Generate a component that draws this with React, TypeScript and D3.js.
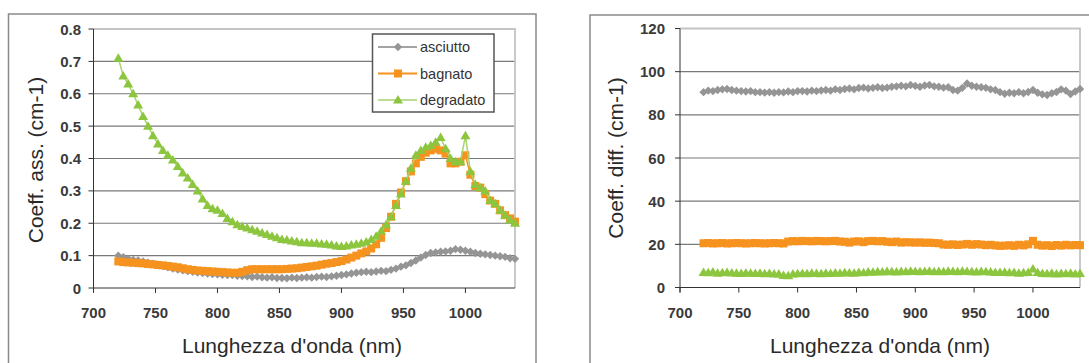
import React, { useEffect, useRef } from "react";
import * as d3 from "d3";

// wavelength grid (nm)
const wavelengths = [
  720, 724, 728, 732, 736, 740, 744, 748, 752, 756,
  760, 764, 768, 772, 776, 780, 784, 788, 792, 796,
  800, 804, 808, 812, 816, 820, 824, 828, 832, 836,
  840, 844, 848, 852, 856, 860, 864, 868, 872, 876,
  880, 884, 888, 892, 896, 900, 904, 908, 912, 916,
  920, 924, 928, 932, 936, 940, 944, 948, 952, 956,
  960, 964, 968, 972, 976, 980, 984, 988, 992, 996,
  1000, 1004, 1008, 1012, 1016, 1020, 1024, 1028, 1032, 1036,
  1040,
];

// absorption coefficient (cm-1)
const assAsciutto = [
  0.1, 0.095, 0.09, 0.087, 0.085, 0.082, 0.078, 0.075, 0.072, 0.068,
  0.064, 0.06, 0.057, 0.055, 0.052, 0.05, 0.048, 0.046, 0.045, 0.043,
  0.042, 0.041, 0.04, 0.04, 0.038, 0.037, 0.036, 0.034, 0.035, 0.033,
  0.032, 0.033, 0.031, 0.031, 0.03, 0.032, 0.031, 0.032, 0.033, 0.032,
  0.034, 0.035, 0.034, 0.036, 0.038, 0.04, 0.042, 0.045, 0.047, 0.049,
  0.05, 0.049, 0.051, 0.053, 0.052, 0.056, 0.06, 0.066, 0.07, 0.077,
  0.085, 0.094, 0.102, 0.108, 0.11, 0.112, 0.113, 0.115, 0.12, 0.118,
  0.115, 0.112, 0.108, 0.106, 0.104, 0.102, 0.1, 0.098, 0.096, 0.092,
  0.09,
];
const assBagnato = [
  0.082, 0.08, 0.079, 0.078, 0.077, 0.076, 0.074, 0.073, 0.071, 0.07,
  0.068, 0.066, 0.064, 0.061, 0.058, 0.056, 0.054, 0.053, 0.052, 0.051,
  0.05, 0.049, 0.048, 0.047, 0.047, 0.05, 0.055, 0.058, 0.058, 0.058,
  0.058, 0.058, 0.058, 0.058, 0.059, 0.06, 0.061, 0.063, 0.065, 0.067,
  0.069, 0.072, 0.075, 0.077, 0.08, 0.083, 0.088, 0.094, 0.1, 0.107,
  0.113, 0.122, 0.135, 0.155, 0.185, 0.22, 0.26, 0.295, 0.33, 0.36,
  0.385, 0.405, 0.418, 0.425, 0.43, 0.425, 0.415, 0.385, 0.385, 0.39,
  0.41, 0.35, 0.315, 0.31, 0.29, 0.27, 0.26, 0.24, 0.225, 0.215,
  0.205,
];
const assDegradato = [
  0.71, 0.655, 0.63, 0.6, 0.565, 0.53, 0.5, 0.47, 0.445, 0.425,
  0.41, 0.395, 0.375, 0.355, 0.34, 0.32, 0.3, 0.275, 0.255, 0.245,
  0.24, 0.23, 0.215, 0.205, 0.195, 0.19, 0.185, 0.18, 0.175, 0.17,
  0.165, 0.16, 0.155, 0.15, 0.148, 0.145, 0.143, 0.14, 0.14, 0.138,
  0.138, 0.136, 0.135, 0.133, 0.13, 0.128, 0.13, 0.133, 0.135, 0.138,
  0.142, 0.15, 0.16, 0.175, 0.195, 0.22, 0.255, 0.29, 0.33, 0.37,
  0.41, 0.425, 0.435, 0.44, 0.45, 0.465, 0.43, 0.4, 0.39, 0.39,
  0.47, 0.36, 0.32, 0.31, 0.3, 0.27, 0.26, 0.24, 0.225, 0.21,
  0.2,
];

// diffusion coefficient (cm-1)
const diffAsciutto = [
  90.5, 91.2, 91, 91.5, 91.8, 92, 91.5, 91.2, 91, 90.8,
  91, 90.5, 90.5, 90.3, 90.5, 90.2, 90.5, 90.4, 90.8, 90.5,
  91, 91, 90.8, 91.2, 91, 91.3, 91.5, 91.2, 91.8, 91.5,
  92, 92.2, 91.8, 92.4, 92.6, 92.2, 92.5, 92.8, 92.4, 92.6,
  93, 93.2, 93.5, 93.2, 93.8, 93.4, 93, 93.6, 93.8, 93.2,
  93, 92.6, 92.8, 91.5, 91.2, 92.5, 94.5, 93.5, 93, 92.8,
  92.5, 91.8, 91.5, 90.5, 89.8, 90.2, 90, 90.5, 90, 90.6,
  91.5, 90.2, 89.5, 89.2, 90, 90.6, 91.8, 91.2, 89.6, 90.8,
  92,
];
const diffBagnato = [
  20.5, 20.6, 20.4, 20.5, 20.6, 20.4, 20.5, 20.6, 20.5, 20.4,
  20.5, 20.6, 20.5, 20.4, 20.5, 20.6, 20.5, 20.4, 21.3, 21.5,
  21.4, 21.6, 21.5, 21.4, 21.6, 21.5, 21.4, 21.5, 21.6, 21.3,
  21.2, 20.8, 21.3, 21.4, 21.0, 21.5, 21.6, 21.4, 21.5, 21.2,
  21.0, 21.3, 20.8, 21.0, 20.9, 20.8, 20.9, 20.7, 20.8, 20.6,
  20.5, 19.9, 19.8, 20.0, 19.7, 19.9, 20.2, 19.8, 20.1, 19.9,
  19.6, 19.8, 19.5, 19.3, 19.4, 19.6, 19.3, 19.8, 19.5, 20.0,
  21.6, 19.8, 19.4, 19.6, 19.2, 19.7, 19.4, 19.8, 19.5, 19.7,
  19.6,
];
const diffDegradato = [
  7.0, 6.8, 7.2, 6.6, 6.8, 7.0, 6.7, 6.6, 6.5, 6.7,
  6.6, 6.5, 6.6, 6.4, 6.5, 6.3, 6.2, 5.6, 5.5, 6.3,
  6.4, 6.5, 6.4, 6.6, 6.5, 6.4, 6.6, 6.5, 6.7, 6.6,
  6.8, 6.7, 6.6, 6.9, 6.8, 7.2, 7.1, 7.3, 7.2, 7.4,
  7.3, 7.2, 7.4, 7.3, 7.5, 7.4, 7.3, 7.4, 7.5, 7.3,
  7.4, 7.3, 7.5, 7.4, 7.3, 7.5, 7.4, 7.3, 7.2, 7.4,
  7.3, 7.2, 7.0, 6.9, 7.1, 6.8, 6.9, 6.6, 6.8, 7.0,
  8.6, 7.0, 6.5, 6.4, 6.6, 6.3, 6.5, 6.4, 6.6, 6.3,
  6.5,
];

const seriesNames = ["asciutto", "bagnato", "degradato"];
const xTicks = [700, 750, 800, 850, 900, 950, 1000];
const assTicks = [0, 0.1, 0.2, 0.3, 0.4, 0.5, 0.6, 0.7, 0.8];
const diffTicks = [0, 20, 40, 60, 80, 100, 120];

const FONT = "'Liberation Sans', Arial, sans-serif";

// marker shapes + colours for each series
const styles = [
  { line: "#a3a3a3", fill: "#959595", shape: "M0,-4.2L4.2,0L0,4.2L-4.2,0Z" },
  { line: "#f6921e", fill: "#f6921e", shape: "M-4,-4H4V4H-4Z" },
  { line: "#a8d46c", fill: "#8cc63e", shape: "M0,-5L5,3.5L-5,3.5Z" },
];

function drawPanel(svg, p) {
  const g = svg.append("g");

  // outer chart border
  g.append("rect")
    .attr("x", p.box.x)
    .attr("y", p.box.y)
    .attr("width", p.box.w)
    .attr("height", 400)
    .attr("fill", "none")
    .attr("stroke", "#8a8a8a")
    .attr("stroke-width", 1.5);

  const x = d3.scaleLinear().domain([700, 1040]).range([p.left, p.right]);
  const y = d3.scaleLinear().domain([0, p.yMax]).range([p.bottom, p.top]);

  // gridlines
  g.selectAll(".grid")
    .data(p.yTicks.filter((d) => d > 0 && d < p.yMax))
    .join("line")
    .attr("x1", p.left)
    .attr("x2", p.right)
    .attr("y1", (d) => y(d))
    .attr("y2", (d) => y(d))
    .attr("stroke", "#7a7a7a")
    .attr("stroke-width", 1.2);

  // plot frame (top / right)
  g.append("path")
    .attr("d", `M${p.left},${p.top}H${p.right}V${p.bottom}`)
    .attr("fill", "none")
    .attr("stroke", "#c4c4c4")
    .attr("stroke-width", 1.8);

  // axes
  const xAxis = g.append("g").attr("transform", `translate(0,${p.bottom})`);
  xAxis.append("line").attr("x1", p.left).attr("x2", p.right).attr("stroke", "#333");
  xAxis
    .selectAll(".xt")
    .data(xTicks)
    .join("line")
    .attr("x1", (d) => x(d))
    .attr("x2", (d) => x(d))
    .attr("y1", 0)
    .attr("y2", 5)
    .attr("stroke", "#333");
  xAxis
    .selectAll(".xl")
    .data(xTicks)
    .join("text")
    .attr("x", (d) => x(d))
    .attr("y", 30)
    .attr("text-anchor", "middle")
    .style("font-family", FONT)
    .style("font-size", "15px")
    .style("font-weight", "bold")
    .style("fill", "#3a3a3a")
    .text((d) => d);

  const yAxis = g.append("g").attr("transform", `translate(${p.left},0)`);
  yAxis.append("line").attr("y1", p.top).attr("y2", p.bottom + 5).attr("stroke", "#333");
  yAxis
    .selectAll(".yt")
    .data(p.yTicks)
    .join("line")
    .attr("x1", -5)
    .attr("x2", 0)
    .attr("y1", (d) => y(d))
    .attr("y2", (d) => y(d))
    .attr("stroke", "#333");
  yAxis
    .selectAll(".yl")
    .data(p.yTicks)
    .join("text")
    .attr("x", p.labelX - p.left)
    .attr("y", (d) => y(d) + 5.5)
    .attr("text-anchor", "end")
    .style("font-family", FONT)
    .style("font-size", "15px")
    .style("font-weight", "bold")
    .style("fill", "#3a3a3a")
    .text((d) => p.fmt(d));

  // axis titles
  g.append("text")
    .attr("x", p.xTitleX)
    .attr("y", 353)
    .attr("text-anchor", "middle")
    .style("font-family", FONT)
    .style("font-size", "21px")
    .style("fill", "#2a2a2a")
    .text("Lunghezza d'onda (nm)");

  g.append("text")
    .attr("transform", `translate(${p.yTitleX},${p.yTitleY}) rotate(-90)`)
    .attr("text-anchor", "middle")
    .style("font-family", FONT)
    .style("font-size", "21px")
    .style("fill", "#2a2a2a")
    .text(p.yTitle);

  // series
  const line = d3
    .line()
    .x((d) => x(d[0]))
    .y((d) => y(d[1]));

  p.series.forEach((values, i) => {
    const pts = wavelengths.map((w, j) => [w, values[j]]);
    const s = styles[i];
    g.append("path")
      .datum(pts)
      .attr("d", line)
      .attr("fill", "none")
      .attr("stroke", s.line)
      .attr("stroke-width", 1.5);
    g.selectAll(`.m${i}`)
      .data(pts)
      .join("path")
      .attr("transform", (d) => `translate(${x(d[0])},${y(d[1])})`)
      .attr("d", s.shape)
      .attr("fill", s.fill);
  });

  // legend
  if (p.legend) {
    const lg = g.append("g");
    lg.append("rect")
      .attr("x", 372.5)
      .attr("y", 34)
      .attr("width", 121.5)
      .attr("height", 78)
      .attr("fill", "white")
      .attr("stroke", "#555")
      .attr("stroke-width", 1.5);
    const legendLines = ["#a3a3a3", "#f6921e", "#bcdd95"];
    seriesNames.forEach((name, i) => {
      const ly = 47 + i * 26.5;
      lg.append("line")
        .attr("x1", 378)
        .attr("x2", 417)
        .attr("y1", ly)
        .attr("y2", ly)
        .attr("stroke", legendLines[i])
        .attr("stroke-width", 1.8);
      lg.append("path")
        .attr("transform", `translate(398,${ly})`)
        .attr("d", styles[i].shape)
        .attr("fill", styles[i].fill);
      lg.append("text")
        .attr("x", 420)
        .attr("y", ly + 5)
        .style("font-family", FONT)
        .style("font-size", "14.5px")
        .style("fill", "#333")
        .text(name);
    });
  }
}

export default function App() {
  const svgRef = useRef(null);
  const width = 1089;
  const height = 363;

  useEffect(() => {
    const svg = d3.select(svgRef.current);
    svg.selectAll("*").remove();

    drawPanel(svg, {
      box: { x: 8.5, y: 14, w: 527.5 },
      left: 93.5,
      right: 515,
      top: 29,
      bottom: 288,
      yMax: 0.8,
      yTicks: assTicks,
      fmt: (d) => (d === 0 ? "0" : d3.format(".1f")(d)),
      labelX: 81,
      series: [assAsciutto, assBagnato, assDegradato],
      yTitle: "Coeff. ass. (cm-1)",
      yTitleX: 43,
      yTitleY: 160,
      xTitleX: 292,
      legend: true,
    });

    drawPanel(svg, {
      box: { x: 590, y: 15, w: 600 },
      left: 680,
      right: 1080,
      top: 28.5,
      bottom: 287.5,
      yMax: 120,
      yTicks: diffTicks,
      fmt: (d) => String(d),
      labelX: 665,
      series: [diffAsciutto, diffBagnato, diffDegradato],
      yTitle: "Coeff. diff. (cm-1)",
      yTitleX: 623,
      yTitleY: 158,
      xTitleX: 880,
      legend: false,
    });
  }, []);

  return (
    <svg
      ref={svgRef}
      width={width}
      height={height}
      style={{ position: "absolute", left: 0, top: 0, display: "block", background: "white" }}
    ></svg>
  );
}
